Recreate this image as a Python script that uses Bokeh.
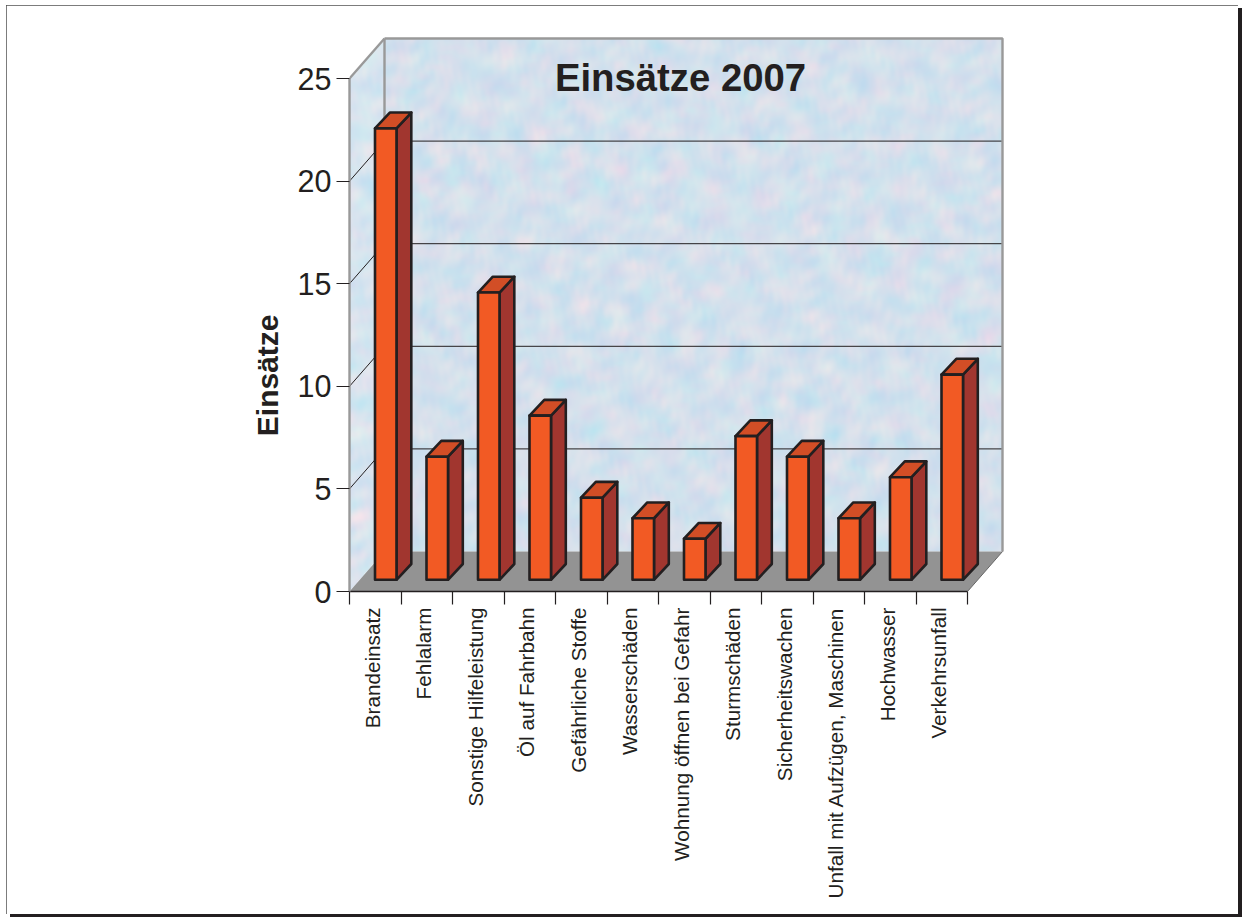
import math
import numpy as np
from bokeh.plotting import figure
from bokeh.models import (Range1d, LinearAxis, FixedTicker, Label)
from bokeh.embed import file_html
from bokeh.resources import INLINE

categories = ["Brandeinsatz", "Fehlalarm", "Sonstige Hilfeleistung", "Öl auf Fahrbahn",
              "Gefährliche Stoffe", "Wasserschäden", "Wohnung öffnen bei Gefahr", "Sturmschäden",
              "Sicherheitswachen", "Unfall mit Aufzügen, Maschinen", "Hochwasser", "Verkehrsunfall"]
values = [22, 6, 14, 8, 4, 3, 2, 7, 6, 3, 5, 10]
y_ticks = [0, 5, 10, 15, 20, 25]
title_text = "Einsätze 2007"
y_title = "Einsätze"

# geometry (pixels of the page -> data units)
PX_X = 51.5
PX_Y = 20.52
N = len(categories)
YMAX = 25
DX = 35 / PX_X          # depth of the 3D box
DY = 40 / PX_Y
BX0 = 25.5 / PX_X       # bar front face inside its slot
BX1 = 47.0 / PX_X
BY0 = 11.7 / PX_Y       # bar base lift
BDX = 14.8 / PX_X       # bar depth
BDY = 15.8 / PX_Y
X_END = 656 / PX_X
Y_END = 556 / PX_Y
LABEL_SHIFT = -3 / PX_X
Y_TITLE_POS = 277 / PX_Y
M_L, M_T, M_R, M_B = 6, 5, 4, 3   # page frame insets
W, H = 1242 - M_L - M_R, 917 - M_T - M_B
INK = "#231F20"
WALL = "#999999"

p = figure(width=W, height=H, output_backend="svg", toolbar_location=None,
           x_range=Range1d(0, X_END), y_range=Range1d(0, Y_END),
           x_axis_type=None, y_axis_type=None,
           min_border_left=349 - M_L, min_border_right=W - (1005 - M_L), min_border_top=35 - M_T,
           min_border_bottom=H - (591 - M_T),
           background_fill_color=None, border_fill_color="white", outline_line_color=None,
           margin=(M_T, M_R, M_B, M_L),
           styles={"outline": "1.7px solid #505050", "outline-offset": "-1.7px",
                   "box-shadow": "4px 3px 0 #231F20"})
p.xgrid.visible = False
p.ygrid.visible = False

# mottled wall: a smooth deterministic pattern (many plane waves at golden-angle directions)
nx, ny = 656, 556
xx = np.linspace(0, X_END, nx)
yy = np.linspace(0, Y_END, ny)
Xd, Yd = np.meshgrid(xx, yy)
Xp, Yp = Xd * PX_X, Yd * PX_Y


def mottle(seed_phase, count=48):
    out = np.zeros_like(Xp)
    for k in range(count):
        ang = k * 2.39996 + seed_phase
        per = 7.0 * (1 + ((k * 0.618034) % 1.0) * 7.0)
        f = 2 * np.pi / per
        out += (per ** 0.5) * np.sin(f * (Xp * np.cos(ang) + Yp * np.sin(ang)) + k * k * 0.37 + seed_phase)
    return out / out.std()


A = mottle(0.3)
B = mottle(1.9)
r = 212 - 6 * A + 2.5 * B
g = 225 - 1.5 * A - 2 * B
b = 237 + 0.5 * A - 0.5 * B
diag = Xd * DY / DX
side = Xd < DX
right_edge = X_END - 3 / PX_X
inside = np.where(side, (Yd >= diag) & (Yd <= YMAX + diag), (Yd >= DY) & (Yd <= YMAX + DY) & (Xd <= right_edge))
lift = np.where(side, 4, 0)
img = np.zeros((ny, nx, 4), dtype=np.uint8)
img[..., 0] = np.clip(r + lift, 0, 255)
img[..., 1] = np.clip(g + lift, 0, 255)
img[..., 2] = np.clip(b + lift * 0.6, 0, 255)
img[..., 3] = np.where(inside, 255, 0)
p.image_rgba(image=[img.view(np.uint32).reshape(ny, nx)], x=0, y=0, dw=X_END, dh=Y_END)

# floor
p.patch([0, N, N + DX, DX], [0, 0, DY, DY], fill_color="#939393", line_color=None)

# gridlines on the two walls
for v in y_ticks[1:-1]:
    p.line([0, DX, right_edge], [v, v + DY, v + DY], line_color=INK, line_width=1)

# wall edges
p.line([0, DX], [YMAX, YMAX + DY], line_color=WALL, line_width=2.4)
p.line([DX, DX], [DY, YMAX + DY], line_color=WALL, line_width=2.4)
p.line([DX, right_edge, right_edge], [YMAX + DY, YMAX + DY, DY], line_color=WALL, line_width=2.4)
p.line([N, N + DX], [0, DY], line_color="#666666", line_width=1)

# bars
front_x, front_y, side_x, side_y, top_x, top_y = [], [], [], [], [], []
for i, v in enumerate(values):
    l, r_, b0, t = i + BX0, i + BX1, BY0, BY0 + v
    front_x.append([l, r_, r_, l]); front_y.append([b0, b0, t, t])
    side_x.append([r_, r_ + BDX, r_ + BDX, r_]); side_y.append([b0, b0 + BDY, t + BDY, t])
    top_x.append([l, r_, r_ + BDX, l + BDX]); top_y.append([t, t, t + BDY, t + BDY])
p.patches(side_x, side_y, fill_color="#A1362F", line_color=INK, line_width=2.6, line_join="round")
p.patches(top_x, top_y, fill_color="#D24E26", line_color=INK, line_width=2.6, line_join="round")
p.patches(front_x, front_y, fill_color="#F25A24", line_color=INK, line_width=2.6, line_join="round")

# axes
yaxis = LinearAxis(ticker=FixedTicker(ticks=y_ticks), bounds=(0, YMAX))
yaxis.axis_line_color = WALL
yaxis.axis_line_width = 2.4
yaxis.major_tick_in = 0
yaxis.major_tick_out = 13
yaxis.major_tick_line_color = INK
yaxis.major_tick_line_width = 1.2
yaxis.major_label_standoff = 5
yaxis.major_label_text_font = "Liberation Sans"
yaxis.major_label_text_font_size = "30.5px"
yaxis.major_label_text_color = INK
yaxis.minor_tick_line_color = None
p.add_layout(yaxis, "left")

# the y title, carried by a second axis so it sits outside the frame
ytitle_axis = LinearAxis(ticker=FixedTicker(ticks=[Y_TITLE_POS]), bounds=(0, YMAX))
ytitle_axis.major_label_overrides = {Y_TITLE_POS: y_title}
ytitle_axis.major_label_orientation = math.pi / 2
ytitle_axis.axis_line_color = None
ytitle_axis.major_tick_line_color = None
ytitle_axis.minor_tick_line_color = None
ytitle_axis.major_tick_in = 0
ytitle_axis.major_tick_out = 0
ytitle_axis.major_label_standoff = 27
ytitle_axis.major_label_text_font = "Liberation Sans"
ytitle_axis.major_label_text_font_style = "bold"
ytitle_axis.major_label_text_font_size = "30px"
ytitle_axis.major_label_text_color = INK
p.add_layout(ytitle_axis, "left")

xaxis = LinearAxis(ticker=FixedTicker(ticks=[i + 0.5 + LABEL_SHIFT for i in range(N)],
                                      minor_ticks=list(range(N + 1))),
                   bounds=(0, N))
xaxis.major_label_overrides = {i + 0.5 + LABEL_SHIFT: c for i, c in enumerate(categories)}
xaxis.major_label_orientation = math.pi / 2
xaxis.axis_line_color = INK
xaxis.axis_line_width = 1.4
xaxis.major_tick_line_color = None
xaxis.major_tick_in = 0
xaxis.major_tick_out = 13
xaxis.minor_tick_in = 0
xaxis.minor_tick_out = 13
xaxis.minor_tick_line_color = INK
xaxis.minor_tick_line_width = 1.2
xaxis.major_label_standoff = 3
xaxis.major_label_text_font = "Liberation Sans"
xaxis.major_label_text_font_size = "20.7px"
xaxis.major_label_text_color = INK
p.add_layout(xaxis, "below")

# chart title
p.add_layout(Label(x=331 / PX_X, y=514 / PX_Y, text=title_text, text_align="center", text_baseline="middle",
                   text_font="Liberation Sans", text_font_style="bold", text_font_size="38.3px", text_color=INK))

open("out.html", "w").write(file_html(p, INLINE))
